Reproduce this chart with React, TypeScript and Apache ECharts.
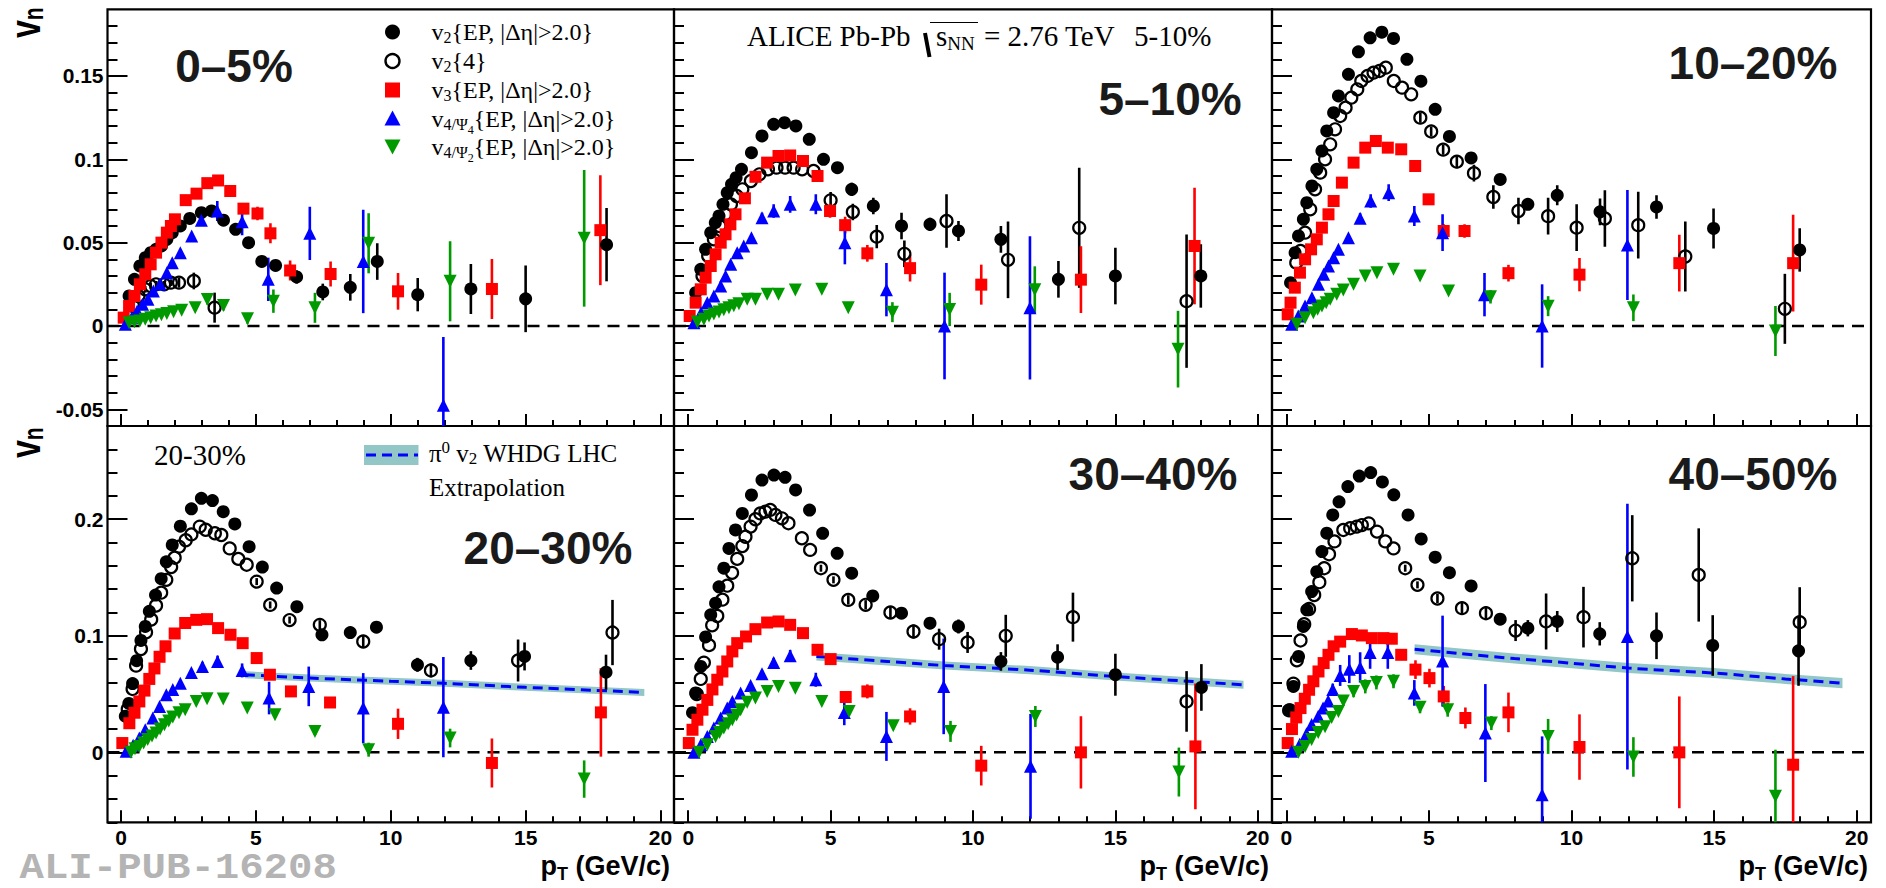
import React, { useEffect, useRef } from 'react';
import * as echarts from 'echarts';

// ---------- tick values ----------
const xMajorTicks = [0, 5, 10, 15, 20];
const yMajorTicksTop = [-0.05, 0, 0.05, 0.1, 0.15];
const yMajorTicksBottom = [0, 0.1, 0.2];
const centralityLabels = ['0–5%', '5–10%', '10–20%', '20–30%', '30–40%', '40–50%'];

// ---------- data: [pT, value, error] ----------
// 0-5%
const c0005_v2EP = [[0.3,0.018],[0.5,0.028],[0.7,0.036],[0.9,0.041],[1.1,0.044],[1.3,0.046],[1.5,0.048],[1.7,0.052],[1.9,0.056],[2.2,0.06],[2.55,0.0645,0.002],[2.98,0.068,0.002],[3.36,0.069,0.002],[3.8,0.0635,0.002],[4.25,0.058,0.002],[4.73,0.05,0.002],[5.22,0.0387,0.003],[5.73,0.0363,0.003],[6.51,0.0294,0.004],[7.48,0.0204,0.005],[8.5,0.0232,0.008],[9.5,0.0387,0.011],[11.0,0.0188,0.01],[12.97,0.0222,0.015],[15.0,0.0163,0.02],[18.0,0.0488,0.022]];
const c0005_v24 = [[0.45,0.012,0.002],[0.65,0.018,0.002],[0.9,0.022,0.002],[1.1,0.024,0.002],[1.3,0.025,0.002],[1.6,0.025,0.002],[1.85,0.026,0.002],[2.15,0.026,0.003],[2.7,0.027,0.005],[3.47,0.011,0.009]];
const c0005_v3 = [[0.1,0.005],[0.3,0.012],[0.5,0.018],[0.7,0.025],[0.9,0.031],[1.1,0.037],[1.3,0.044],[1.5,0.05],[1.7,0.056],[1.85,0.06],[2.0,0.064],[2.4,0.0755],[2.8,0.0794],[3.2,0.0857],[3.6,0.0873],[4.05,0.081],[4.54,0.0704,0.003],[5.06,0.0675,0.004],[5.54,0.0556,0.006],[6.27,0.0333,0.006],[7.77,0.0312,0.0075],[10.27,0.0208,0.011],[13.75,0.0222,0.018],[17.77,0.0575,0.033]];
const c0005_v4psi4 = [[0.16,0.001],[0.4,0.005],[0.6,0.009],[0.8,0.013],[1.0,0.016],[1.2,0.021],[1.45,0.025],[1.7,0.032],[1.9,0.038],[2.2,0.044],[2.62,0.054],[2.98,0.0635,0.003],[3.57,0.069,0.006],[4.49,0.0625,0.008],[5.46,0.028,0.013],[7.0,0.0556,0.016],[8.98,0.0387,0.031],[11.95,-0.0476,0.041]];
const c0005_v4psi2 = [[0.3,0.002],[0.5,0.0025],[0.7,0.003],[0.9,0.004],[1.1,0.005],[1.3,0.006],[1.5,0.0068],[1.7,0.0075],[1.95,0.0085],[2.25,0.0095],[2.75,0.011,0.002],[3.2,0.0159,0.003],[3.8,0.0123,0.003],[4.69,0.0044,0.003],[5.65,0.0149,0.007],[7.19,0.0109,0.009],[9.18,0.0496,0.018],[12.2,0.0268,0.024],[17.17,0.0526,0.041]];

// 5-10%
const c0510_v2EP = [[0.26,0.02],[0.44,0.034],[0.61,0.046],[0.79,0.056],[0.95,0.062],[1.08,0.066],[1.22,0.073],[1.37,0.08],[1.52,0.085],[1.68,0.089],[1.87,0.094],[2.22,0.104],[2.59,0.114],[3.0,0.121],[3.38,0.122],[3.78,0.12],[4.25,0.112,0.002],[4.75,0.1,0.003],[5.24,0.095,0.003],[5.74,0.082,0.004],[6.5,0.072,0.005],[7.49,0.06,0.008],[8.49,0.061,0.004],[9.49,0.057,0.006],[10.98,0.052,0.008],[13.0,0.028,0.011],[15.0,0.030,0.017],[18.0,0.030,0.019]];
const c0510_v24 = [[0.5,0.03],[0.7,0.042],[0.9,0.052],[1.1,0.06],[1.3,0.067],[1.5,0.073],[1.7,0.078],[1.9,0.082],[2.2,0.087],[2.5,0.091],[2.8,0.094],[3.1,0.095],[3.4,0.095],[3.7,0.095],[4.0,0.094],[4.4,0.093],[5.0,0.0754,0.005],[5.78,0.0684,0.005],[6.62,0.0536,0.007],[7.59,0.0433,0.008],[9.07,0.063,0.016],[11.23,0.0397,0.023],[13.73,0.0589,0.036],[17.5,0.0149,0.04]];
const c0510_v3 = [[0.05,0.006],[0.26,0.014],[0.44,0.022],[0.61,0.029],[0.79,0.036],[0.96,0.043],[1.14,0.05],[1.31,0.055],[1.48,0.061],[1.66,0.067],[1.99,0.0766],[2.36,0.0895],[2.77,0.098],[3.17,0.102],[3.58,0.1023],[4.03,0.099],[4.54,0.09,0.003],[4.98,0.069,0.004],[5.51,0.0605,0.005],[6.29,0.0436,0.005],[7.79,0.0347,0.008],[10.29,0.0248,0.012],[13.79,0.0278,0.02],[17.78,0.048,0.035]];
const c0510_v4psi4 = [[0.2,0.002],[0.45,0.008],[0.67,0.014],[0.9,0.018],[1.14,0.024],[1.31,0.03],[1.49,0.037],[1.72,0.044],[1.95,0.048],[2.22,0.053,0.002],[2.59,0.065,0.003],[3.0,0.069,0.004],[3.58,0.073,0.005],[4.48,0.073,0.006],[5.5,0.05,0.013],[6.96,0.0218,0.016],[9.0,0.0,0.032],[12.0,0.0109,0.043]];
const c0510_v4psi2 = [[0.32,0.0024],[0.55,0.004],[0.73,0.006],[0.9,0.0072],[1.08,0.0084],[1.25,0.0097],[1.43,0.011],[1.6,0.0122],[1.78,0.0134],[2.07,0.016],[2.36,0.016],[2.77,0.019],[3.17,0.019],[3.76,0.0216],[4.69,0.022],[5.62,0.011],[7.17,0.0083,0.006],[9.18,0.0099,0.01],[12.17,0.0218,0.014],[17.2,-0.0139,0.023]];

// 10-20%
const c1020_v2EP = [[0.15,0.026],[0.31,0.044],[0.43,0.054],[0.6,0.064],[0.72,0.074],[0.9,0.084],[1.07,0.094],[1.25,0.105],[1.42,0.117],[1.66,0.128],[1.83,0.138],[2.18,0.151],[2.53,0.1645,0.003],[2.94,0.1729,0.003],[3.35,0.1763,0.003],[3.76,0.1725,0.003],[4.23,0.16,0.003],[4.72,0.1469,0.003],[5.22,0.13,0.003],[5.72,0.1137,0.003],[6.48,0.1008,0.003],[7.5,0.0879,0.003],[8.47,0.073,0.003],[9.5,0.0784,0.006],[11.0,0.0685,0.008],[12.98,0.0714,0.007],[14.98,0.0585,0.012],[18.0,0.0456,0.013]];
const c1020_v24 = [[0.35,0.038],[0.5,0.045],[0.66,0.056],[0.84,0.07],[1.01,0.082],[1.19,0.092],[1.36,0.1],[1.54,0.109],[1.71,0.118],[1.89,0.126],[2.08,0.131],[2.28,0.137],[2.49,0.142],[2.63,0.147],[2.85,0.15],[3.06,0.152],[3.27,0.153],[3.49,0.155],[3.77,0.147],[4.06,0.143],[4.38,0.139],[4.7,0.125,0.003],[5.08,0.1167,0.003],[5.5,0.1058,0.003],[5.98,0.0986,0.004],[6.58,0.0917,0.005],[7.26,0.0774,0.007],[8.14,0.069,0.008],[9.18,0.0659,0.011],[10.18,0.059,0.014],[11.17,0.0645,0.017],[12.34,0.0605,0.02],[13.99,0.0417,0.021],[17.48,0.0103,0.021]];
const c1020_v3 = [[0.05,0.007],[0.15,0.014],[0.3,0.023],[0.48,0.032],[0.66,0.04],[0.87,0.046],[1.07,0.052],[1.25,0.059],[1.48,0.067],[1.66,0.075],[1.95,0.086],[2.36,0.098],[2.77,0.107],[3.14,0.111],[3.56,0.107],[4.03,0.106],[4.52,0.096,0.003],[4.99,0.076,0.003],[5.52,0.057,0.004],[6.25,0.057,0.004],[7.79,0.0317,0.005],[10.28,0.0308,0.01],[13.78,0.0377,0.017],[17.77,0.0377,0.029]];
const c1020_v4psi4 = [[0.19,0.001],[0.42,0.006],[0.66,0.012],[0.9,0.017],[1.13,0.025],[1.31,0.031],[1.48,0.036],[1.66,0.041],[1.83,0.046],[2.18,0.053,0.002],[2.59,0.0646,0.003],[2.96,0.075,0.004],[3.59,0.08,0.005],[4.49,0.066,0.006],[5.48,0.056,0.011],[6.95,0.0188,0.013],[8.97,0.0,0.025],[11.96,0.0486,0.033]];
const c1020_v4psi2 = [[0.37,0.001],[0.66,0.005],[0.95,0.008],[1.1,0.01],[1.25,0.012],[1.4,0.014],[1.54,0.016],[1.77,0.019],[2.0,0.0216],[2.36,0.025],[2.77,0.03],[3.18,0.032],[3.76,0.034],[4.69,0.03],[5.69,0.021],[7.16,0.0175,0.004],[9.18,0.0119,0.006],[12.17,0.0109,0.008],[17.15,-0.003,0.015]];

// 20-30%
const c2030_v2EP = [[0.16,0.031],[0.29,0.042],[0.43,0.059],[0.58,0.0787],[0.74,0.096],[0.9,0.108],[1.05,0.121],[1.28,0.135],[1.49,0.149],[1.68,0.1635],[1.9,0.178],[2.2,0.194],[2.61,0.209],[2.98,0.218,0.003],[3.39,0.216,0.003],[3.79,0.2065,0.003],[4.22,0.196,0.003],[4.75,0.1765,0.003],[5.24,0.159,0.003],[5.77,0.141,0.003],[6.52,0.125,0.004],[7.45,0.1008,0.004],[8.5,0.1028,0.004],[9.47,0.1074,0.005],[10.99,0.0751,0.006],[12.97,0.0788,0.008],[14.96,0.0823,0.012],[17.98,0.0688,0.015]];
const c2030_v24 = [[0.25,0.037],[0.43,0.0544],[0.56,0.0744],[0.74,0.0887],[0.93,0.103],[1.12,0.114],[1.3,0.126],[1.49,0.137],[1.68,0.148],[1.86,0.159],[1.99,0.167],[2.15,0.1765],[2.4,0.182],[2.61,0.187],[2.92,0.1937],[3.14,0.191],[3.48,0.188],[3.72,0.1865],[4.03,0.175],[4.35,0.166],[4.66,0.161],[5.03,0.1465,0.003],[5.53,0.1265,0.003],[6.25,0.1135,0.003],[7.37,0.1094,0.004],[8.98,0.0951,0.005],[11.49,0.0703,0.006],[14.72,0.0788,0.018],[18.22,0.1028,0.028]];
const c2030_v3 = [[0.05,0.008],[0.31,0.025],[0.5,0.034],[0.68,0.0437],[0.87,0.053],[1.05,0.063],[1.24,0.072],[1.43,0.082],[1.65,0.091],[1.99,0.102],[2.38,0.111],[2.79,0.1137],[3.19,0.1143],[3.6,0.1066],[4.06,0.1009],[4.51,0.0937],[5.03,0.0809,0.003],[5.52,0.0666,0.004],[6.3,0.0523,0.004],[7.75,0.0428,0.004],[10.27,0.0245,0.013],[13.75,-0.0091,0.021],[17.79,0.0343,0.038]];
const c2030_v4psi4 = [[0.19,0.001],[0.45,0.006],[0.68,0.0123],[0.9,0.0195],[1.18,0.0295],[1.43,0.0394],[1.68,0.0494],[1.92,0.054],[2.2,0.0594,0.002],[2.61,0.0686,0.003],[3.02,0.0737,0.004],[3.58,0.078,0.005],[4.49,0.0703,0.006],[5.49,0.0466,0.014],[6.96,0.0566,0.017],[8.98,0.038,0.03],[11.95,0.0388,0.043]];
const c2030_v4psi2 = [[0.37,0.0],[0.52,0.003],[0.68,0.005],[0.84,0.008],[0.99,0.011],[1.15,0.014],[1.3,0.0166],[1.45,0.02],[1.61,0.0237],[1.77,0.027],[1.92,0.0303],[2.15,0.034],[2.38,0.0366],[2.79,0.0437],[3.19,0.046],[3.79,0.0458],[4.68,0.038],[5.71,0.0323],[7.19,0.018,0.003],[9.18,0.0023,0.006],[12.2,0.0123,0.008],[17.17,-0.0229,0.016]];
const c2030_whdg = [[4.6,0.0666],[7,0.0638],[10,0.061],[12,0.0592],[15,0.0558],[19.4,0.0514]];

// 30-40%
const c3040_v2EP = [[0.15,0.034],[0.26,0.051],[0.44,0.0737],[0.61,0.099],[0.79,0.118],[0.96,0.128],[1.08,0.142],[1.25,0.158],[1.43,0.175],[1.66,0.1908],[1.9,0.205],[2.22,0.2208],[2.59,0.2336,0.003],[3.01,0.2379,0.003],[3.4,0.236,0.003],[3.77,0.2251,0.004],[4.26,0.2079,0.004],[4.72,0.1879,0.004],[5.23,0.1708,0.004],[5.74,0.1537,0.004],[6.48,0.1342,0.005],[7.49,0.1194,0.005],[8.49,0.1108,0.005],[9.49,0.108,0.006],[10.98,0.078,0.008],[12.97,0.0817,0.011],[15.0,0.0666,0.018],[18.02,0.0557,0.02]];
const c3040_v24 = [[0.3,0.05],[0.44,0.063],[0.55,0.077],[0.73,0.092],[0.84,0.109],[1.02,0.117],[1.2,0.131],[1.37,0.143],[1.54,0.154],[1.72,0.166],[1.9,0.177],[2.01,0.185],[2.19,0.1937],[2.36,0.2],[2.53,0.205],[2.71,0.2065],[2.88,0.208],[3.06,0.2037],[3.29,0.2008],[3.52,0.1966],[3.99,0.1837],[4.28,0.1737],[4.66,0.158,0.003],[5.1,0.148,0.003],[5.62,0.1308,0.004],[6.23,0.1266,0.004],[7.1,0.12,0.005],[7.91,0.1037,0.006],[8.81,0.0971,0.009],[9.81,0.0943,0.009],[11.15,0.1,0.018],[13.51,0.116,0.021],[17.5,0.0437,0.026]];
const c3040_v3 = [[0.02,0.008],[0.15,0.0194],[0.32,0.028],[0.5,0.0366],[0.67,0.045],[0.85,0.054],[1.02,0.0623],[1.2,0.0694],[1.37,0.078],[1.55,0.0866],[1.72,0.0937],[2.03,0.0994],[2.36,0.1057],[2.77,0.1114],[3.17,0.1123],[3.58,0.1094],[4.03,0.1023],[4.54,0.088,0.003],[5.0,0.08,0.004],[5.53,0.0475,0.005],[6.29,0.0523,0.006],[7.79,0.0308,0.007],[10.29,-0.0114,0.017],[13.79,0.0,0.031],[17.81,0.0051,0.054]];
const c3040_v4psi4 = [[0.2,0.0],[0.44,0.0066],[0.67,0.0137],[0.9,0.021],[1.14,0.0294],[1.37,0.038],[1.55,0.0437],[1.84,0.0509],[2.19,0.0574,0.002],[2.59,0.0674,0.003],[3.0,0.0771,0.004],[3.58,0.0829,0.005],[4.48,0.0623,0.006],[5.48,0.0343,0.011],[6.96,0.0137,0.021],[8.97,0.0566,0.041],[12.02,-0.012,0.045]];
const c3040_v4psi2 = [[0.38,0.0],[0.67,0.0066],[0.96,0.0137],[1.1,0.017],[1.25,0.021],[1.4,0.0245],[1.55,0.028],[1.7,0.032],[1.84,0.0366],[2.07,0.043],[2.36,0.0466],[2.77,0.0523],[3.17,0.0566],[3.76,0.0551],[4.69,0.0437],[5.65,0.0351],[7.2,0.0228,0.003],[9.21,0.018,0.009],[12.19,0.0308,0.009],[17.23,-0.0169,0.021]];
const c3040_whdg = [[4.5,0.0823],[7,0.078],[9,0.0745],[12,0.0705],[15,0.0651],[19.5,0.058]];

// 40-50%
const c4050_v2EP = [[0.13,0.0366],[0.25,0.0566],[0.43,0.0823],[0.6,0.108],[0.72,0.1223],[0.89,0.138],[1.07,0.155],[1.25,0.1723],[1.42,0.188],[1.63,0.2037],[1.85,0.215],[2.16,0.228],[2.56,0.237,0.003],[2.96,0.24,0.004],[3.37,0.232,0.004],[3.77,0.221,0.004],[4.27,0.2037,0.004],[4.73,0.1831,0.005],[5.22,0.1674,0.005],[5.72,0.1542,0.005],[6.48,0.1428,0.005],[7.5,0.1143,0.005],[8.47,0.1065,0.007],[9.5,0.1123,0.009],[10.99,0.1017,0.01],[12.98,0.1,0.02],[14.95,0.0917,0.026],[17.96,0.0871,0.03]];
const c4050_v24 = [[0.1,0.036],[0.25,0.059],[0.37,0.079],[0.5,0.096],[0.63,0.11],[0.8,0.123],[0.98,0.135],[1.16,0.146],[1.33,0.158],[1.5,0.17],[1.69,0.181],[2.0,0.1908],[2.24,0.1923],[2.47,0.1937],[2.65,0.195],[2.89,0.1965],[3.18,0.1894],[3.47,0.181],[3.76,0.175],[4.17,0.158,0.003],[4.6,0.1437,0.003],[5.3,0.132,0.004],[6.16,0.1237,0.005],[7.0,0.1194,0.006],[8.04,0.1045,0.009],[9.11,0.1123,0.024],[10.42,0.116,0.026],[12.13,0.1665,0.037],[14.46,0.1522,0.04],[18.0,0.1117,0.03]];
const c4050_v3 = [[0.05,0.008],[0.2,0.02],[0.35,0.03],[0.5,0.038],[0.65,0.046],[0.8,0.0537],[0.95,0.061],[1.13,0.0694],[1.31,0.0766],[1.48,0.0837],[1.66,0.091],[1.89,0.095],[2.3,0.1015],[2.65,0.1003],[3.0,0.098],[3.41,0.098],[3.7,0.0975],[4.03,0.0837,0.004],[4.53,0.071,0.008],[5.02,0.0637,0.008],[5.52,0.048,0.009],[6.28,0.0295,0.009],[7.79,0.0343,0.017],[10.28,0.0046,0.028],[13.78,0.0,0.048],[17.77,-0.0106,0.076]];
const c4050_v4psi4 = [[0.19,0.001],[0.47,0.007],[0.71,0.016],[0.89,0.024],[1.12,0.031],[1.29,0.038],[1.47,0.044],[1.63,0.054,0.005],[1.89,0.066,0.009],[2.21,0.0714,0.012],[2.59,0.0729,0.013],[2.94,0.0857,0.014],[3.56,0.0857,0.014],[4.49,0.051,0.011],[5.48,0.0783,0.039],[6.98,0.0166,0.042],[8.97,-0.0363,0.05],[11.96,0.0994,0.114]];
const c4050_v4psi2 = [[0.43,0.0],[0.66,0.005],[0.89,0.011],[1.12,0.017],[1.36,0.022],[1.59,0.03],[1.83,0.035],[2.0,0.044,0.004],[2.36,0.0523,0.005],[2.77,0.0566,0.006],[3.16,0.06,0.006],[3.76,0.061,0.006],[4.69,0.0386,0.005],[5.66,0.0366,0.006],[7.19,0.0251,0.006],[9.18,0.0137,0.015],[12.17,-0.004,0.017],[17.15,-0.0377,0.04]];
const c4050_whdg = [[4.5,0.0885],[6,0.085],[8,0.0805],[10,0.0765],[12,0.0723],[15,0.068],[17.5,0.063],[19.5,0.0594]];

const whdgHalfWidths = [0.003, 0.0035, 0.0043];

// ---------- layout & style ----------
const SANS = '"Liberation Sans", Arial, Helvetica, sans-serif';
const SERIF = '"Liberation Serif", "Times New Roman", serif';
const MONO = '"Liberation Mono", "Courier New", monospace';

const COL_LEFT = [107.5, 674, 1272];
const COL_WIDTH = [566.5, 598, 599];
const ROW_TOP = [9.3, 426];
const ROW_HEIGHT = [416.7, 396.3];
const ROW_YRANGE = [[-0.06, 0.19], [-0.06, 0.28]];

const RED = '#ff0000';
const BLUE = '#0000ff';
const GREEN = '#009900';
const TEAL = '#93c7c7';

const seriesStyles = [
  { key: 'v2ep', color: '#000', symbol: 'circle', size: 13, fill: '#000', border: 0, rotate: 0 },
  { key: 'v24', color: '#000', symbol: 'circle', size: 12, fill: 'rgba(0,0,0,0)', border: 2.2, rotate: 0 },
  { key: 'v3', color: RED, symbol: 'rect', size: 12, fill: RED, border: 0, rotate: 0 },
  { key: 'v44', color: BLUE, symbol: 'triangle', size: 13, fill: BLUE, border: 0, rotate: 0 },
  { key: 'v42', color: GREEN, symbol: 'triangle', size: 13, fill: GREEN, border: 0, rotate: 180 },
];

const panels: any[] = [
  { v2ep: c0005_v2EP, v24: c0005_v24, v3: c0005_v3, v44: c0005_v4psi4, v42: c0005_v4psi2, whdg: null },
  { v2ep: c0510_v2EP, v24: c0510_v24, v3: c0510_v3, v44: c0510_v4psi4, v42: c0510_v4psi2, whdg: null },
  { v2ep: c1020_v2EP, v24: c1020_v24, v3: c1020_v3, v44: c1020_v4psi4, v42: c1020_v4psi2, whdg: null },
  { v2ep: c2030_v2EP, v24: c2030_v24, v3: c2030_v3, v44: c2030_v4psi4, v42: c2030_v4psi2, whdg: c2030_whdg, hw: whdgHalfWidths[0] },
  { v2ep: c3040_v2EP, v24: c3040_v24, v3: c3040_v3, v44: c3040_v4psi4, v42: c3040_v4psi2, whdg: c3040_whdg, hw: whdgHalfWidths[1] },
  { v2ep: c4050_v2EP, v24: c4050_v24, v3: c4050_v3, v44: c4050_v4psi4, v42: c4050_v4psi2, whdg: c4050_whdg, hw: whdgHalfWidths[2] },
];

function minorList(from: number, to: number, step: number, skipEvery: number) {
  const out: number[] = [];
  for (let k = from; k <= to; k++) {
    if (k % skipEvery !== 0) out.push(Math.round(k * step * 1e6) / 1e6);
  }
  return out;
}
const xMinorTicks = minorList(0, 20, 1, 5);
const yMinorTicksTop = minorList(-6, 18, 0.01, 5);
const yMinorTicksBottom = minorList(-3, 13, 0.02, 5);

function buildOption() {
  const grid: any[] = [];
  const xAxis: any[] = [];
  const yAxis: any[] = [];
  const series: any[] = [];
  const tickStyle = { color: '#000', width: 2 };

  panels.forEach((p, i) => {
    const row = i < 3 ? 0 : 1;
    const col = i % 3;
    const [ymin, ymax] = ROW_YRANGE[row];
    grid.push({
      left: COL_LEFT[col], top: ROW_TOP[row], width: COL_WIDTH[col], height: ROW_HEIGHT[row],
      show: true, borderColor: '#000', borderWidth: 2.2, backgroundColor: 'rgba(0,0,0,0)',
    });
    const xa = 2 * i;
    const ya = 2 * i;
    xAxis.push({
      type: 'value', gridIndex: i, min: -0.5, max: 20.5, position: 'bottom',
      axisLine: { show: false, onZero: false }, splitLine: { show: false },
      axisTick: { show: true, inside: true, length: 12, customValues: xMajorTicks, lineStyle: tickStyle },
      axisLabel: { show: row === 1, customValues: xMajorTicks, margin: 5, fontSize: 21, fontWeight: 'bold', fontFamily: SANS, color: '#000' },
    });
    xAxis.push({
      type: 'value', gridIndex: i, min: -0.5, max: 20.5, position: 'bottom',
      axisLine: { show: false, onZero: false }, splitLine: { show: false },
      axisTick: { show: true, inside: true, length: 6, customValues: xMinorTicks, lineStyle: tickStyle },
      axisLabel: { show: false },
    });
    const yMaj = row === 0 ? yMajorTicksTop : yMajorTicksBottom;
    const yMin = row === 0 ? yMinorTicksTop : yMinorTicksBottom;
    yAxis.push({
      type: 'value', gridIndex: i, min: ymin, max: ymax, position: 'left',
      axisLine: { show: false, onZero: false }, splitLine: { show: false },
      axisTick: { show: true, inside: true, length: 20, customValues: yMaj, lineStyle: tickStyle },
      axisLabel: { show: col === 0, customValues: yMaj, margin: 4, fontSize: 21, fontWeight: 'bold', fontFamily: SANS, color: '#000' },
    });
    yAxis.push({
      type: 'value', gridIndex: i, min: ymin, max: ymax, position: 'left',
      axisLine: { show: false, onZero: false }, splitLine: { show: false },
      axisTick: { show: true, inside: true, length: 10, customValues: yMin, lineStyle: tickStyle },
      axisLabel: { show: false },
    });

    // WHDG band
    if (p.whdg) {
      const curve = p.whdg as number[][];
      const hw = p.hw as number;
      series.push({
        type: 'custom', xAxisIndex: xa, yAxisIndex: ya, silent: true, clip: true, z: 1,
        data: [[curve[0][0], curve[0][1]]],
        renderItem: (params: any, api: any) => {
          const up = curve.map((c) => api.coord([c[0], c[1] + hw]));
          const lo = curve.slice().reverse().map((c) => api.coord([c[0], c[1] - hw]));
          return { type: 'polygon', shape: { points: up.concat(lo) }, style: { fill: TEAL } };
        },
      });
    }
    // zero line
    series.push({
      type: 'line', xAxisIndex: xa, yAxisIndex: ya, silent: true, symbol: 'none', z: 2,
      data: [[-0.5, 0], [20.5, 0]],
      lineStyle: { color: '#000', width: 2.5, type: [12, 8] },
    });
    if (p.whdg) {
      series.push({
        type: 'line', xAxisIndex: xa, yAxisIndex: ya, silent: true, symbol: 'none', z: 3, smooth: 0.3,
        data: p.whdg,
        lineStyle: { color: BLUE, width: 3, type: [10, 6] },
      });
    }
    // error bars
    seriesStyles.forEach((s) => {
      const pts = p[s.key] as number[][];
      series.push({
        type: 'custom', xAxisIndex: xa, yAxisIndex: ya, silent: true, clip: true, z: 4,
        encode: { x: 0, y: 1 },
        data: pts.map((d) => [d[0], d[1], d.length > 2 ? d[2] : 0]),
        renderItem: (params: any, api: any) => {
          const x = api.value(0);
          const y = api.value(1);
          const e = api.value(2);
          if (!e) return null;
          const a = api.coord([x, y - e]);
          const b = api.coord([x, y + e]);
          return { type: 'line', shape: { x1: a[0], y1: a[1], x2: b[0], y2: b[1] }, style: { stroke: s.color, lineWidth: 2.6 } };
        },
      });
    });
    // markers
    seriesStyles.forEach((s) => {
      const pts = p[s.key] as number[][];
      series.push({
        type: 'scatter', xAxisIndex: xa, yAxisIndex: ya, silent: true, z: 5,
        symbol: s.symbol, symbolSize: s.size, symbolRotate: s.rotate,
        data: pts.map((d) => [d[0], d[1]]),
        itemStyle: { color: s.fill, borderColor: s.color, borderWidth: s.border, opacity: 1 },
      });
    });
  });

  const subRich = (fs: number, base: number) => ({
    s: { fontSize: fs, fontFamily: SERIF, fill: '#000', padding: [Math.round(base * 0.5), 0, 0, 0] },
    ss: { fontSize: Math.round(fs * 0.72), fontFamily: SERIF, fill: '#000', padding: [Math.round(base * 1.05), 0, 0, 0] },
    sup: { fontSize: fs, fontFamily: SERIF, fill: '#000', padding: [0, 0, Math.round(base * 0.55), 0] },
  });

  const legendRows = [
    { y: 32, text: 'v{s|2}{EP, |Δη|>2.0}' },
    { y: 61, text: 'v{s|2}{4}' },
    { y: 90, text: 'v{s|3}{EP, |Δη|>2.0}' },
    { y: 118.5, text: 'v{s|4/Ψ}{ss|4}{EP, |Δη|>2.0}' },
    { y: 147, text: 'v{s|4/Ψ}{ss|2}{EP, |Δη|>2.0}' },
  ];
  const LX = 392.5;
  const graphic: any[] = [
    { type: 'circle', shape: { cx: LX, cy: 32, r: 7.5 }, style: { fill: '#000' } },
    { type: 'circle', shape: { cx: LX, cy: 61, r: 7 }, style: { fill: 'none', stroke: '#000', lineWidth: 2.4 } },
    { type: 'rect', shape: { x: LX - 7.5, y: 82.5, width: 15, height: 15 }, style: { fill: RED } },
    { type: 'polygon', shape: { points: [[LX, 110.5], [LX + 8, 125.5], [LX - 8, 125.5]] }, style: { fill: BLUE } },
    { type: 'polygon', shape: { points: [[LX - 8, 139.5], [LX + 8, 139.5], [LX, 154.5]] }, style: { fill: GREEN } },
  ];
  legendRows.forEach((r) => {
    graphic.push({
      type: 'text', x: 431.5, y: r.y,
      style: { text: r.text, rich: subRich(16, 21), fontSize: 24, fontFamily: SERIF, fill: '#000', align: 'left', verticalAlign: 'middle' },
    });
  });

  // ALICE header
  graphic.push(
    { type: 'text', x: 747, y: 36, style: { text: 'ALICE Pb-Pb', fontSize: 29, fontFamily: SERIF, fill: '#000', align: 'left', verticalAlign: 'middle' } },
    { type: 'line', shape: { x1: 925, y1: 33, x2: 929.5, y2: 57 }, style: { stroke: '#000', lineWidth: 4 } },
    { type: 'line', shape: { x1: 930, y1: 22.5, x2: 978, y2: 22.5 }, style: { stroke: '#000', lineWidth: 1.2 } },
    { type: 'text', x: 936, y: 36, style: { text: 's{s|NN}', rich: { s: { fontSize: 19, fontFamily: SERIF, fill: '#000', padding: [14, 0, 0, 0] } }, fontSize: 29, fontFamily: SERIF, fill: '#000', align: 'left', verticalAlign: 'middle' } },
    { type: 'text', x: 984, y: 36, style: { text: '= 2.76 TeV', fontSize: 29, fontFamily: SERIF, fill: '#000', align: 'left', verticalAlign: 'middle' } },
    { type: 'text', x: 1134, y: 36, style: { text: '5-10%', fontSize: 29, fontFamily: SERIF, fill: '#000', align: 'left', verticalAlign: 'middle' } },
  );

  // 20-30% serif label & WHDG legend
  graphic.push(
    { type: 'text', x: 154, y: 455, style: { text: '20-30%', fontSize: 29, fontFamily: SERIF, fill: '#000', align: 'left', verticalAlign: 'middle' } },
    { type: 'rect', shape: { x: 364, y: 445, width: 54.5, height: 20 }, style: { fill: TEAL } },
    { type: 'line', shape: { x1: 366, y1: 455, x2: 418, y2: 455 }, style: { stroke: BLUE, lineWidth: 3, lineDash: [10, 6] } },
    { type: 'text', x: 429, y: 453, style: { text: 'π{sup|0} v{s|2} WHDG LHC', rich: subRich(17, 21), fontSize: 25, fontFamily: SERIF, fill: '#000', align: 'left', verticalAlign: 'middle' } },
    { type: 'text', x: 429, y: 487, style: { text: 'Extrapolation', fontSize: 25, fontFamily: SERIF, fill: '#000', align: 'left', verticalAlign: 'middle' } },
  );

  // big centrality labels
  const bigPos = [[234, 66], [1170, 99], [1753, 63], [548, 548], [1153, 474], [1753, 474]];
  centralityLabels.forEach((t, i) => {
    graphic.push({ type: 'text', x: bigPos[i][0], y: bigPos[i][1], style: { text: t, fontSize: 46, fontWeight: 'bold', fontFamily: SANS, fill: '#1a1a1a', align: 'center', verticalAlign: 'middle' } });
  });

  // axis titles
  [670, 1269, 1868].forEach((x) => {
    graphic.push({ type: 'text', x, y: 866, style: { text: 'p{t|T} (GeV/c)', rich: { t: { fontSize: 18, fontWeight: 'bold', fontFamily: SANS, fill: '#000', padding: [16, 0, 0, 0] } }, fontSize: 27, fontWeight: 'bold', fontFamily: SANS, fill: '#000', align: 'right', verticalAlign: 'middle' } });
  });
  [38, 458].forEach((y) => {
    graphic.push({ type: 'text', x: 25, y, rotation: Math.PI / 2, scaleY: 1.35, style: { text: 'v{n|n}', rich: { n: { fontSize: 21, fontWeight: 'bold', fontFamily: SANS, fill: '#000', padding: [12, 0, 0, 0] } }, fontSize: 32, fontWeight: 'bold', fontFamily: SANS, fill: '#000', align: 'left', verticalAlign: 'middle' } });
  });

  graphic.push({ type: 'text', x: 19.5, y: 868, scaleX: 1.1, style: { text: 'ALI-PUB-16208', fontSize: 37, fontWeight: 'bold', fontFamily: MONO, fill: '#b4b4b4', align: 'left', verticalAlign: 'middle' } });

  return {
    animation: false,
    backgroundColor: '#ffffff',
    grid, xAxis, yAxis, series, graphic,
  };
}

export default function App() {
  const ref = useRef<HTMLDivElement>(null);
  useEffect(() => {
    if (!ref.current) return;
    const chart = echarts.init(ref.current, undefined, { renderer: 'svg' });
    chart.setOption(buildOption() as any);
    return () => chart.dispose();
  }, []);
  return <div ref={ref} style={{ position: 'absolute', left: 0, top: 0, width: 1886, height: 888 }} />;
}
